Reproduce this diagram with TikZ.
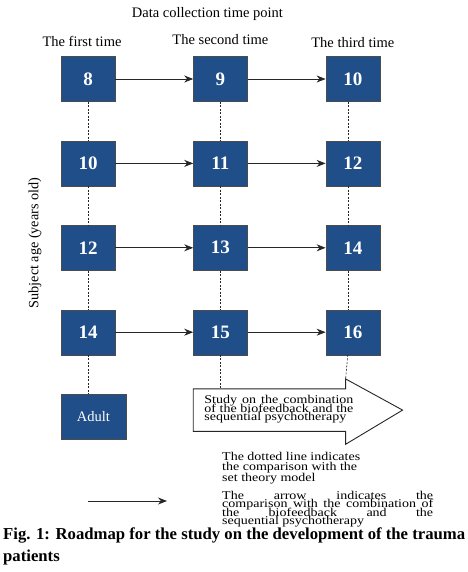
\documentclass[tikz,border=0pt]{standalone}
\usepackage{fontspec}
\setmainfont{Liberation Serif}
\usepackage{xcolor}
\usepackage{tikz}
\usetikzlibrary{arrows.meta, positioning}

\definecolor{boxblue}{HTML}{1F4E89}
\setlength{\lineskiplimit}{-20pt}

\begin{document}
\begin{tikzpicture}[x=1pt, y=1pt, node distance=39pt and 78pt,
    agebox/.style={draw=black!70, fill=boxblue, text=white, minimum width=54pt, minimum height=45pt, font=\bfseries\fontsize{19}{19}\selectfont},
    timelabel/.style={font=\fontsize{14.5}{15}\selectfont, inner sep=0pt},
    compare/.style={draw=black!85, dash pattern=on 2pt off 1.5pt, line width=0.6pt},
    nextstep/.style={draw=black!85, line width=0.8pt, -{Stealth[length=9pt, width=7pt]}},
    smalltext/.style={font=\fontsize{14}{#1}\selectfont, yscale=0.85, align=left, inner sep=0pt}
]

    \useasboundingbox (0,0) rectangle (467,-572);

    % First time column
    \node[agebox] (a8) at (88,-79) {8};
    \node[agebox, below=of a8] (a10) {10};
    \node[agebox, below=of a10] (a12) {12};
    \node[agebox, below=of a12] (a14) {14};
    \node[agebox, font=\fontsize{14.5}{15}\selectfont, minimum width=65pt, below=of a14.south west, anchor=north west] (adult) {Adult};

    % Second time column
    \node[agebox, right=of a8] (b9) {9};
    \node[agebox, right=of a10] (b11) {11};
    \node[agebox, right=of a12] (b13) {13};
    \node[agebox, right=of a14] (b15) {15};

    % Third time column
    \node[agebox, right=of b9] (c10) {10};
    \node[agebox, right=of b11] (c12) {12};
    \node[agebox, right=of b13] (c14) {14};
    \node[agebox, right=of b15] (c16) {16};

    % Headings
    \node[timelabel, above=9pt of a8, xshift=-6pt] (first) {The first time};
    \node[timelabel, above=11pt of b9] (second) {The second time};
    \node[timelabel, above=8pt of c10] (third) {The third time};
    \node[timelabel, above=14pt of second, xshift=-13pt] (datapoint) {Data collection time point};
    \node[timelabel, rotate=90, font=\fontsize{14.2}{15}\selectfont] (subjectage) at (35,-243) {Subject age (years old)};

    % Arrows between the time points
    \draw[nextstep] (a8) -- (b9);
    \draw[nextstep] (b9) -- (c10);
    \draw[nextstep] (a10) -- (b11);
    \draw[nextstep] (b11) -- (c12);
    \draw[nextstep] (a12) -- (b13);
    \draw[nextstep] (b13) -- (c14);
    \draw[nextstep] (a14) -- (b15);
    \draw[nextstep] (b15) -- (c16);

    % Big arrow for the combined study
    \node[minimum width=152pt, minimum height=42pt, inner sep=0pt, below=34pt of b15.south west, anchor=north west] (studybody) {};
    \draw[line width=0.9pt, draw=black!85, fill=white] (studybody.north west) -- (studybody.north east)
        -- ([yshift=10pt]studybody.north east) coordinate (headtop)
        -- ([xshift=57pt]studybody.east)
        -- ([yshift=-13pt]studybody.south east) -- (studybody.south east)
        -- (studybody.south west) -- cycle;
    \node[smalltext=10.2, anchor=north west] (studytext) at ([xshift=11pt, yshift=-6pt]studybody.north west) {\makebox[149pt][s]{Study on the combination}\\\makebox[149pt][s]{of the biofeedback and the}\\sequential psychotherapy};

    % Dotted lines
    \draw[compare] (a8) -- (a10);
    \draw[compare] (a10) -- (a12);
    \draw[compare] (a12) -- (a14);
    \draw[compare] (a14) -- (a14 |- adult.north);
    \draw[compare] (b9) -- (b11);
    \draw[compare] (b11) -- (b13);
    \draw[compare] (b13) -- (b15);
    \draw[compare] (b15) -- (b15 |- studybody.north);
    \draw[compare] ([xshift=-5pt]c10.south) -- ([xshift=-5pt]c12.north);
    \draw[compare] ([xshift=-5pt]c12.south) -- ([xshift=-5pt]c14.north);
    \draw[compare] ([xshift=-5pt]c14.south) -- ([xshift=-5pt]c16.north);
    \draw[compare] ([xshift=-5pt]c16.south) -- (headtop);

    % Legend
    \node[smalltext=12.4, anchor=north west] (dotnote) at (222,-452) {The dotted line indicates\\the comparison with the\\set theory model};
    \coordinate (legfrom) at (88,-501);
    \coordinate (legto) at (167,-501);
    \draw[nextstep] (legfrom) -- (legto);
    \node[smalltext=9.9, anchor=north west] (arrownote) at (222,-491) {\makebox[211pt][s]{The arrow indicates the}\\\makebox[211pt][s]{comparison with the combination of}\\\makebox[211pt][s]{the biofeedback and the}\\sequential psychotherapy};

    % Caption
    \node[anchor=north west, inner sep=0pt, align=left, font=\bfseries\fontsize{16.7}{22}\selectfont] (caption) at (3,-528) {Fig. 1: Roadmap for the study on the development of the trauma\\patients};

\end{tikzpicture}
\end{document}
